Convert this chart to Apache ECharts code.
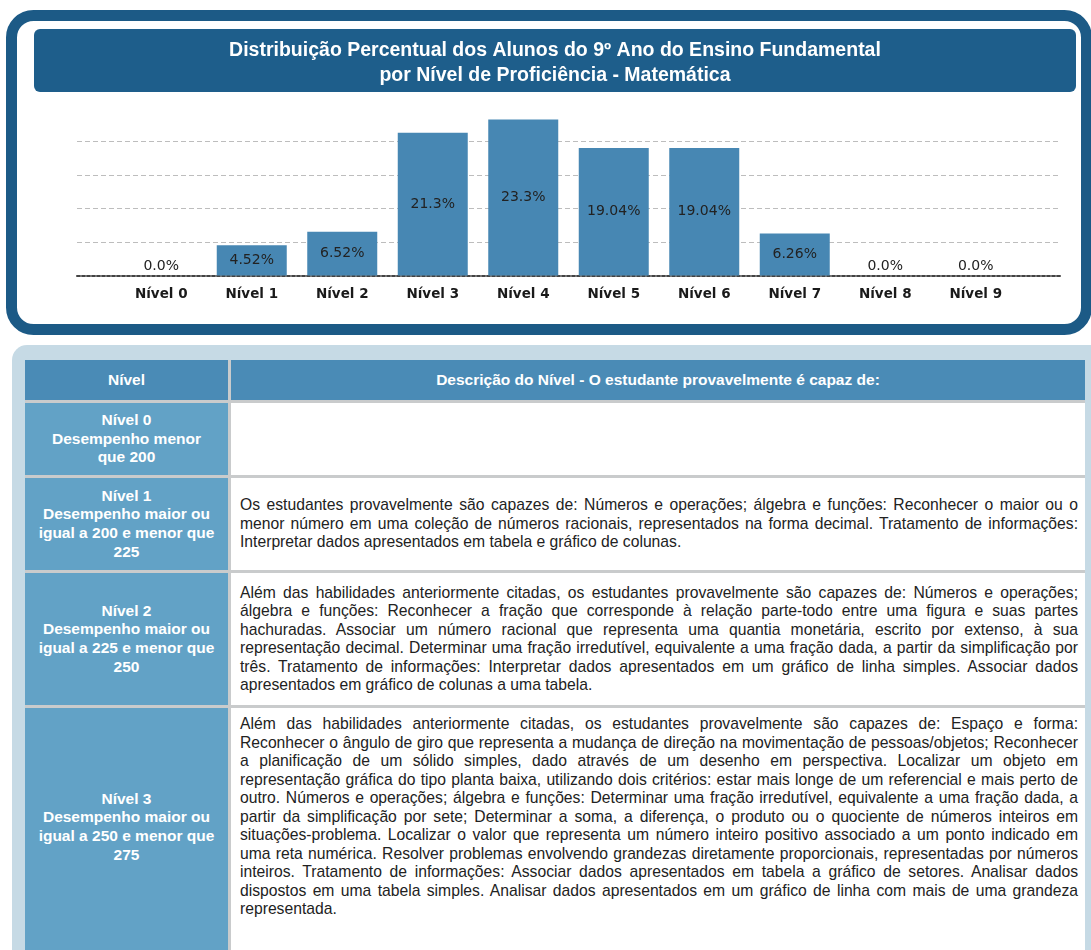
<!DOCTYPE html>
<html>
<head>
<meta charset="utf-8">
<script src="https://cdn.jsdelivr.net/npm/echarts@6/dist/echarts.min.js"></script>
<style>
  html, body { margin: 0; padding: 0; background: #fff; width: 1091px; height: 950px; overflow: hidden; }
  #grafico { position: absolute; left: 0; top: 0; width: 1110px; height: 340px; }
  #painel { position: absolute; left: 12px; top: 345px; width: 1095px; height: 640px; background: #c6dae5; border-radius: 15px; }
  #tabela { position: absolute; left: 25px; top: 360px; width: 1060px; background: #c9cbcc; }
  .linha { display: flex; margin-bottom: 3px; }
  .cab { background: #4a8bb6; color: #fff; font: bold 15.5px "Liberation Sans", Arial, sans-serif; display: flex; align-items: center; justify-content: center; }
  .nivel { flex: 0 0 203px; margin-right: 3px; background: #62a2c6; color: #fff; font: bold 15.5px "Liberation Sans", Arial, sans-serif; line-height: 18.6px; text-align: center; display: flex; align-items: center; justify-content: center; box-sizing: border-box; }
  .desc { flex: 1 1 0; min-width: 0; overflow: hidden; background: #fff; padding: 0 7px 0 9px; color: #222; font: 15.7px "Liberation Sans", Arial, sans-serif; line-height: 18.5px; display: flex; flex-direction: column; justify-content: center; box-sizing: border-box; }
  .desc div { white-space: nowrap; text-align: justify; text-align-last: justify; }
  .desc div.fim { text-align: left; text-align-last: left; }
  .ultima .desc { justify-content: flex-start; padding-top: 7px; }
  .ultima .nivel { padding-bottom: 22px; }
</style>
</head>
<body>
<div id="grafico"></div>
<div id="painel"></div>
<div id="tabela"></div>
<script>
// dados do gráfico
var niveis = ['Nível 0', 'Nível 1', 'Nível 2', 'Nível 3', 'Nível 4', 'Nível 5', 'Nível 6', 'Nível 7', 'Nível 8', 'Nível 9'];
var percentuais = [0, 4.52, 6.52, 21.3, 23.3, 19.04, 19.04, 6.26, 0, 0];
var titulo = 'Distribuição Percentual dos Alunos do 9º Ano do Ensino Fundamental\npor Nível de Proficiência - Matemática';

// dados da tabela
var cabecalho = ['Nível', 'Descrição do Nível - O estudante provavelmente é capaz de:'];
var faixas = [
  ['Nível 0', 'Desempenho menor', 'que 200'],
  ['Nível 1', 'Desempenho maior ou', 'igual a 200 e menor que', '225'],
  ['Nível 2', 'Desempenho maior ou', 'igual a 225 e menor que', '250'],
  ['Nível 3', 'Desempenho maior ou', 'igual a 250  e menor que', '275']
];
var descricoes = [
  [],
  ['Os estudantes provavelmente são capazes de: Números e operações; álgebra e funções: Reconhecer o maior ou o',
   'menor número em uma coleção de números racionais, representados na forma decimal. Tratamento de informações:',
   'Interpretar dados apresentados em tabela e gráfico de colunas.'],
  ['Além das habilidades anteriormente citadas, os estudantes provavelmente são capazes de: Números e operações;',
   'álgebra e funções: Reconhecer a fração que corresponde à relação parte-todo entre uma figura e suas partes',
   'hachuradas. Associar um número racional que representa uma quantia monetária, escrito por extenso, à sua',
   'representação decimal. Determinar uma fração irredutível, equivalente a uma fração dada, a partir da simplificação por',
   'três. Tratamento de informações: Interpretar dados apresentados em um gráfico de linha simples. Associar dados',
   'apresentados em gráfico de colunas a uma tabela.'],
  ['Além das habilidades anteriormente citadas, os estudantes provavelmente são capazes de: Espaço e forma:',
   'Reconhecer o ângulo de giro que representa a mudança de direção na movimentação de pessoas/objetos; Reconhecer',
   'a planificação de um sólido simples, dado através de um desenho em perspectiva. Localizar um objeto em',
   'representação gráfica do tipo planta baixa, utilizando dois critérios: estar mais longe de um referencial e mais perto de',
   'outro. Números e operações; álgebra e funções: Determinar uma fração irredutível, equivalente a uma fração dada, a',
   'partir da simplificação por sete; Determinar a soma, a diferença, o produto ou o quociente de números inteiros em',
   'situações-problema. Localizar o valor que representa um número inteiro positivo associado a um ponto indicado em',
   'uma reta numérica. Resolver problemas envolvendo grandezas diretamente proporcionais, representadas por números',
   'inteiros. Tratamento de informações: Associar dados apresentados em tabela a gráfico de setores. Analisar dados',
   'dispostos em uma tabela simples. Analisar dados apresentados em um gráfico de linha com mais de uma grandeza',
   'representada.']
];
var alturas = [72, 92, 132, 260];

// monta a tabela
var tabela = document.getElementById('tabela');
var html = '<div class="linha" style="height:40px">' +
  '<div class="cab" style="flex:0 0 203px;margin-right:3px">' + cabecalho[0] + '</div>' +
  '<div class="cab" style="flex:1 1 0">' + cabecalho[1] + '</div></div>';
faixas.forEach(function (f, i) {
  var linhas = descricoes[i].map(function (t, j) {
    var cls = j === descricoes[i].length - 1 ? ' class="fim"' : '';
    return '<div' + cls + '>' + t + '</div>';
  }).join('');
  var extra = i === faixas.length - 1 ? ' ultima' : '';
  html += '<div class="linha' + extra + '" style="height:' + alturas[i] + 'px">' +
    '<div class="nivel">' + f.join('<br>') + '</div>' +
    '<div class="desc">' + linhas + '</div></div>';
});
tabela.innerHTML = html;

// gráfico
var chart = echarts.init(document.getElementById('grafico'));
var option = {
  animation: false,
  title: {
    text: titulo,
    left: 'center',
    top: 38.5,
    padding: 0,
    textStyle: {
      color: '#fff',
      fontWeight: 'bold',
      fontSize: 19.5,
      lineHeight: 25,
      fontFamily: 'Liberation Sans, Arial, sans-serif'
    }
  },
  graphic: [
    {
      type: 'rect',
      z: -10,
      shape: { x: 11.5, y: 15.5, width: 1075, height: 314, r: 22 },
      style: { fill: '#fff', stroke: '#1c5a86', lineWidth: 11 }
    },
    {
      type: 'rect',
      z: -9,
      shape: { x: 34, y: 29, width: 1042, height: 63, r: 6 },
      style: { fill: '#1e5e8b' }
    }
  ],
  grid: [
    { left: 77, top: 141.5, width: 983, height: 134 },
    { left: 116, top: 108, width: 905, height: 167.5 }
  ],
  xAxis: [
    {
      gridIndex: 0,
      type: 'value',
      min: 0,
      max: 1,
      axisLine: { show: true, lineStyle: { color: '#444', width: 2, type: [3, 2] } },
      axisTick: { show: false },
      axisLabel: { show: false },
      splitLine: { show: false }
    },
    {
      gridIndex: 1,
      type: 'category',
      data: niveis,
      axisLine: { show: false },
      axisTick: { show: false },
      axisLabel: {
        margin: 12,
        color: '#1a1a1a',
        fontSize: 13.5,
        fontWeight: 'bold',
        fontFamily: 'DejaVu Sans, sans-serif'
      }
    }
  ],
  yAxis: [
    {
      gridIndex: 0,
      type: 'value',
      min: 0,
      max: 20,
      interval: 5,
      axisLine: { show: false },
      axisTick: { show: false },
      axisLabel: { show: false },
      splitLine: {
        show: true,
        showMinLine: false,
        lineStyle: { color: '#bdbdbd', type: [5, 3], width: 1 }
      }
    },
    {
      gridIndex: 1,
      type: 'value',
      min: 0,
      max: 25,
      show: false,
      splitLine: { show: false }
    }
  ],
  series: [
    {
      type: 'bar',
      xAxisIndex: 1,
      yAxisIndex: 1,
      barWidth: 70,
      itemStyle: { color: '#4787b3' },
      label: {
        show: true,
        position: 'inside',
        color: '#222',
        fontSize: 14,
        fontFamily: 'DejaVu Sans, sans-serif',
        formatter: function (p) {
          return (p.value === 0 ? p.value.toFixed(1) : String(p.value)) + '%';
        }
      },
      data: percentuais.map(function (v) {
        return v === 0 ? { value: v, label: { position: 'top', distance: 2 } } : v;
      })
    }
  ]
};
chart.setOption(option);
</script>
</body>
</html>
